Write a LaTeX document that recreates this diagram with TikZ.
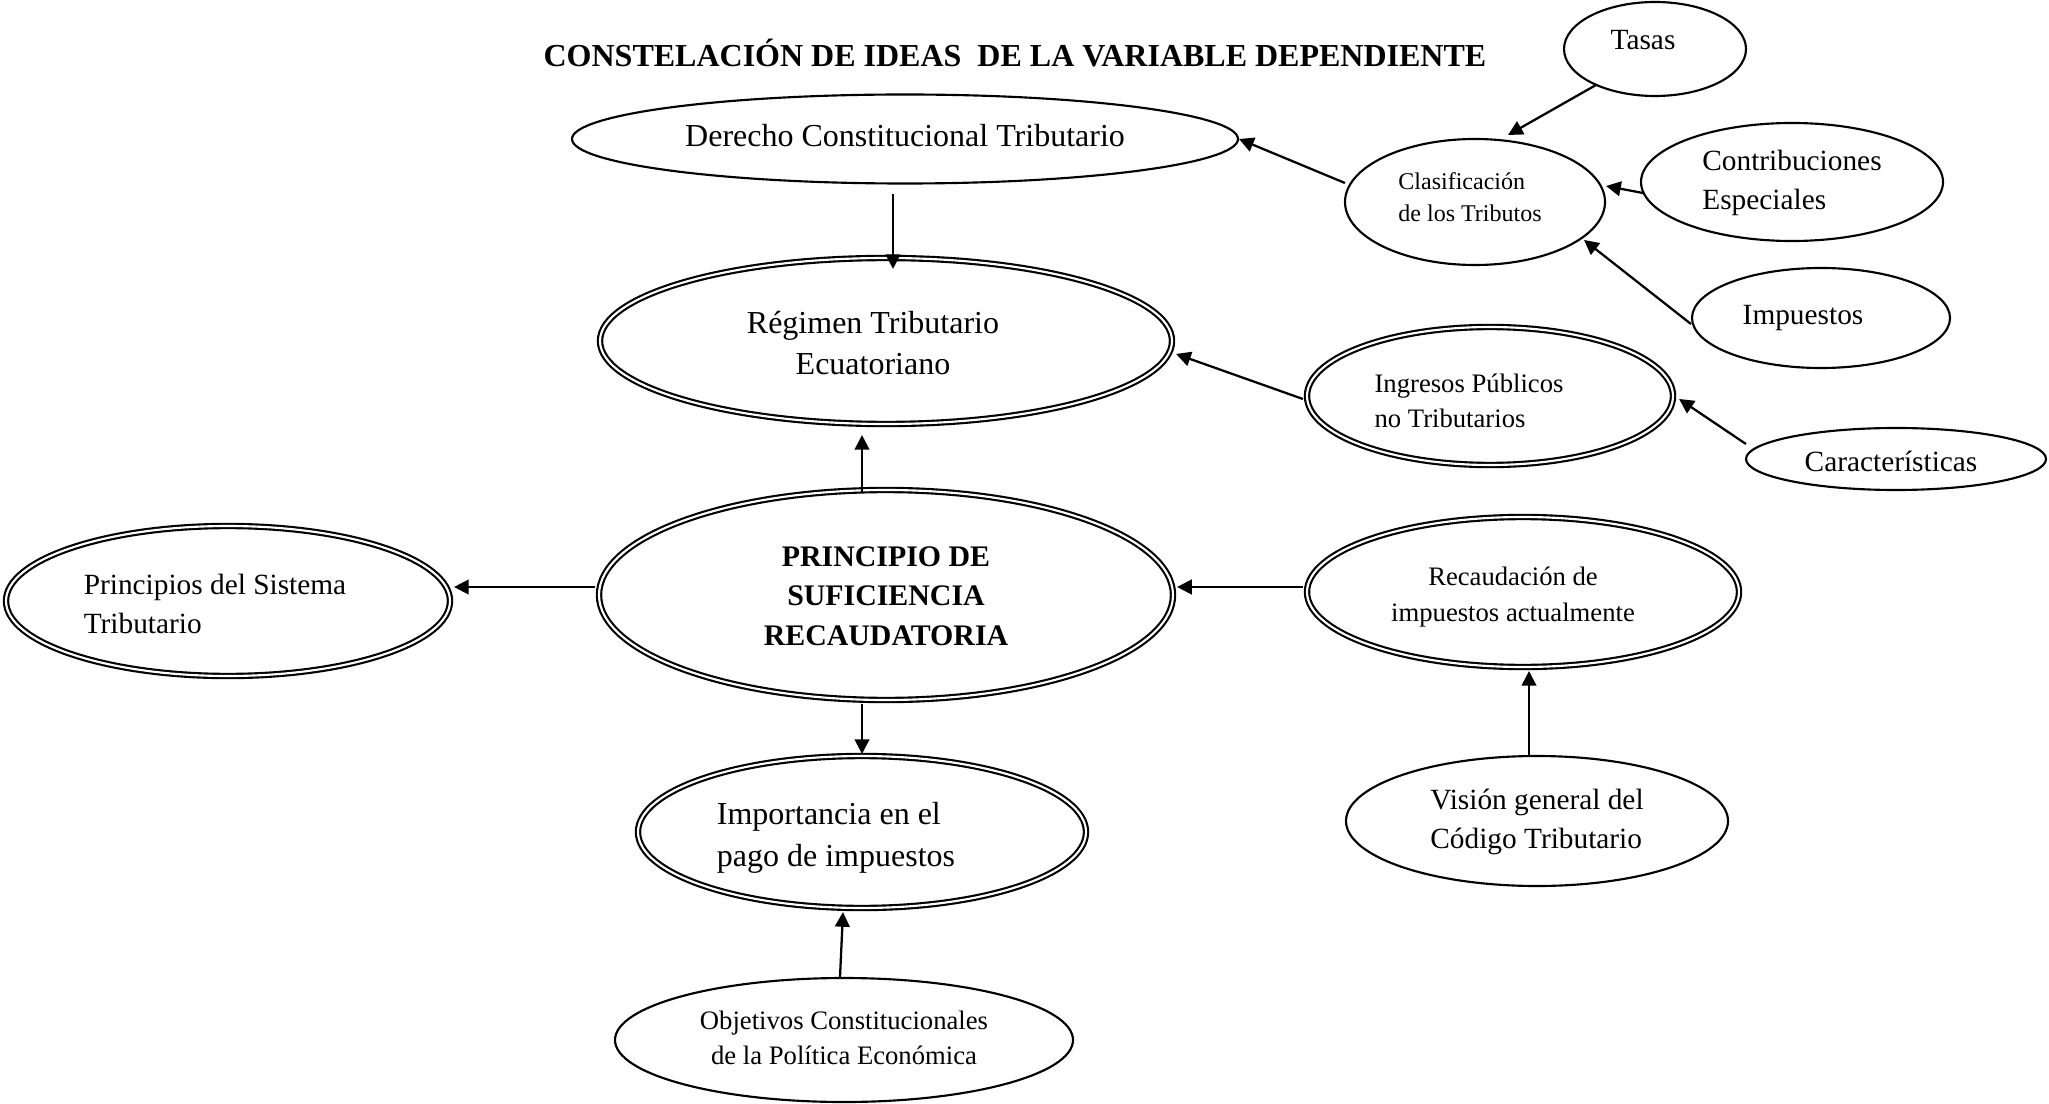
\documentclass[tikz,border=0pt]{standalone}
\usepackage{fontspec}
\setmainfont{Liberation Serif}
\usetikzlibrary{shapes.geometric,arrows.meta,calc}
\begin{document}
\begin{tikzpicture}[x=0.375pt,y=-0.375pt,
  ell/.style={ellipse, draw, line width=0.8pt, inner sep=0pt},
  dbl/.style={ellipse, draw, line width=0.8pt, double, double distance=0.8pt, inner sep=0pt},
  sz/.style 2 args={minimum width=#1*0.75pt, minimum height=#2*0.75pt},
  txt/.style={inner sep=0pt, align=center},
  txl/.style={inner sep=0pt, align=left},
  fa/.style={font=\fontsize{12}{15.7}\selectfont},
  fb/.style={font=\fontsize{11}{14.5}\selectfont},
  fbb/.style={font=\fontsize{11.2}{14.8}\selectfont\bfseries},
  fc/.style={font=\fontsize{10}{13.3}\selectfont},
  fd/.style={font=\fontsize{9}{11.8}\selectfont},
  arr/.style={-{Triangle[length=5.5pt,width=5.5pt]}, line width=0.85pt}
]
\useasboundingbox (0,0) rectangle (2049,1104);

% title
\node[txt, font=\fontsize{12}{15}\selectfont\bfseries] (title) at (1015,53) {CONSTELACIÓN DE IDEAS \ DE LA VARIABLE DEPENDIENTE};

% ellipses
\node[ell, sz={333}{44.5}] (der) at (905,139) {};
\node[dbl, sz={286}{83}] (reg) at (886,341) {};
\node[dbl, sz={287}{105}] (pri) at (886,595) {};
\node[dbl, sz={222}{75}] (psis) at (228,601) {};
\node[dbl, sz={224}{76}] (imp) at (862,832) {};
\node[ell, sz={229}{62}] (obj) at (844,1040) {};
\node[dbl, sz={183}{69}] (ing) at (1490,396) {};
\node[dbl, sz={216}{75}] (rec) at (1523,592) {};
\node[ell, sz={191}{65}] (vis) at (1537,821) {};
\node[ell, sz={130}{63}] (cla) at (1475,202) {};
\node[ell, sz={91}{47}] (tas) at (1655,49) {};
\node[ell, sz={151}{59}] (con) at (1792,182) {};
\node[ell, sz={129}{50}] (impu) at (1821,318) {};
\node[ell, sz={150}{31}] (car) at (1896,459) {};

% texts
\node[txt, fa] (tder) at (905,136) {Derecho Constitucional Tributario};
\node[txt, fa] (treg) at (873,343) {Régimen Tributario\\Ecuatoriano};
\node[txt, fbb] (tpri) at (886,596) {PRINCIPIO DE\\SUFICIENCIA\\RECAUDATORIA};
\node[txl, fb] (tpsis) at (215,604) {Principios del Sistema\\Tributario};
\node[txl, fa] (timp) at (836,838) {Importancia en el\\pago de impuestos};
\node[txt, fc] (tobj) at (844,1038) {Objetivos Constitucionales\\de la Política Económica};
\node[txl, fc] (ting) at (1469,401) {Ingresos Públicos\\no Tributarios};
\node[txt, fc] (trec) at (1513,597) {Recaudación de\\impuestos actualmente};
\node[txl, fb] (tvis) at (1537,822) {Visión general del\\Código Tributario};
\node[txl, fd] (tcla) at (1470,197) {Clasificación\\de los Tributos};
\node[txt, fb] (ttas) at (1643,40) {Tasas};
\node[txl, fb] (tcon) at (1792,183) {Contribuciones\\Especiales};
\node[txt, fb] (timpu) at (1803,318) {Impuestos};
\node[txt, fb] (tcar) at (1891,461) {Características};

% connectors
\draw[arr] ($(der.south)+(-12,9)$) -- ($(reg.north)+(7,12)$);
\draw[arr] ($(pri.north)+(-24,4)$) -- ($(reg.south)+(-24,10)$);
\draw[arr] ($(pri.south)+(-24,3)$) -- ($(imp.north)+(0,-1)$);
\draw[arr] ($(pri.west)+(-3,-8)$) -- ($(psis.east)+(3,-14)$);
\draw[arr] ($(rec.west)+(-3,-5)$) -- ($(pri.east)+(3,-8)$);
\draw[arr] ($(vis.north)+(-8,0)$) -- ($(rec.south)+(6,3)$);
\draw[arr] ($(obj.north)+(-4,0)$) -- ($(imp.south)+(-19,3)$);
\draw[arr] ($(ing.west)+(-3,3)$) -- ($(reg.east)+(3,13)$);
\draw[arr] ($(car.west)+(1,-15)$) -- ($(ing.east)+(5,3)$);
\draw[arr] ($(cla.west)+(1,-19)$) -- (der.east);
\draw[arr] ($(tas.center)+(-59,36)$) -- ($(cla.center)+(33,-67)$);
\draw[arr] ($(con.west)+(3,11)$) -- ($(cla.east)+(0,-16)$);
\draw[arr] ($(impu.west)+(0,6)$) -- ($(cla.center)+(109,38)$);
\end{tikzpicture}
\end{document}
